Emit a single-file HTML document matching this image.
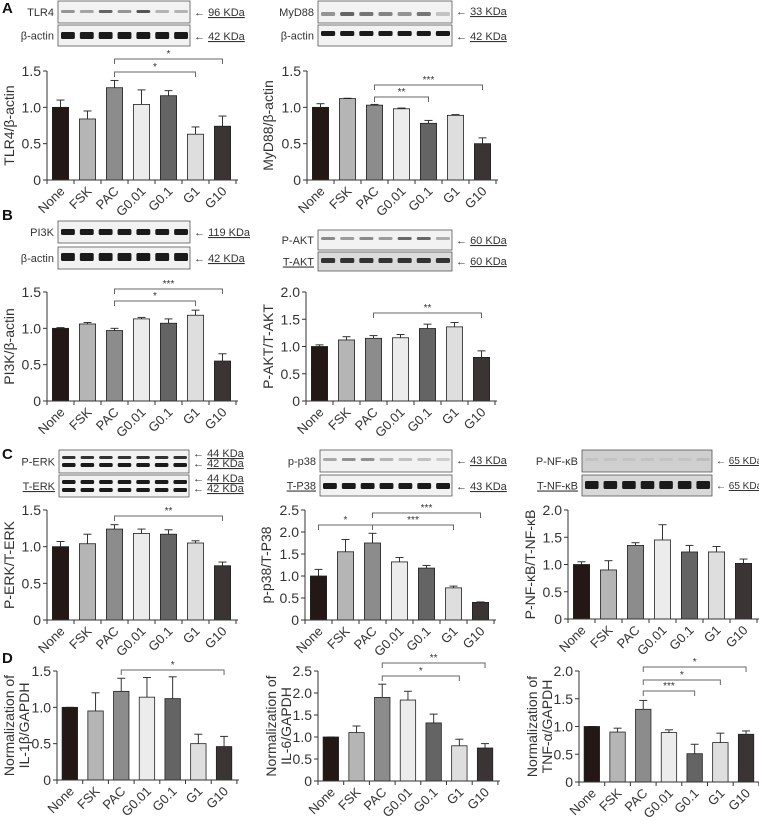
<!DOCTYPE html>
<html><head><meta charset="utf-8"><style>
body{margin:0;background:#fff;width:759px;height:817px;overflow:hidden;font-family:"Liberation Sans",sans-serif}
svg text{font-family:"Liberation Sans","DejaVu Sans",sans-serif}
</style></head><body>
<svg id="fig" width="759" height="817" viewBox="0 0 759 817" xmlns="http://www.w3.org/2000/svg"></svg>
<script>
const categories=["None","FSK","PAC","G0.01","G0.1","G1","G10"];
const tlr4Values=[1.0,0.84,1.27,1.04,1.16,0.63,0.74];
const tlr4Errors=[0.1,0.11,0.1,0.2,0.07,0.1,0.14];
const myd88Values=[1.0,1.12,1.03,0.98,0.78,0.89,0.50];
const myd88Errors=[0.05,0.005,0.01,0.01,0.04,0.01,0.08];
const pi3kValues=[1.0,1.06,0.97,1.13,1.07,1.18,0.55];
const pi3kErrors=[0.01,0.02,0.03,0.02,0.06,0.07,0.1];
const aktValues=[1.0,1.12,1.15,1.16,1.33,1.36,0.80];
const aktErrors=[0.03,0.06,0.05,0.06,0.08,0.08,0.12];
const erkValues=[1.0,1.04,1.24,1.18,1.17,1.05,0.74];
const erkErrors=[0.07,0.13,0.06,0.06,0.06,0.03,0.05];
const p38Values=[1.0,1.55,1.75,1.32,1.18,0.73,0.40];
const p38Errors=[0.15,0.28,0.22,0.1,0.06,0.04,0.01];
const nfkbValues=[1.0,0.9,1.35,1.45,1.23,1.23,1.02];
const nfkbErrors=[0.05,0.17,0.05,0.28,0.12,0.1,0.08];
const il1bValues=[1.0,0.95,1.22,1.14,1.12,0.5,0.46];
const il1bErrors=[0,0.25,0.18,0.27,0.3,0.13,0.14];
const il6Values=[1.0,1.1,1.9,1.84,1.32,0.8,0.75];
const il6Errors=[0,0.15,0.3,0.2,0.2,0.15,0.1];
const tnfValues=[1.0,0.9,1.31,0.89,0.51,0.71,0.86];
const tnfErrors=[0,0.07,0.16,0.05,0.17,0.17,0.06];
const ticks15=["0","0.5","1.0","1.5"];
const ticks20=["0","0.5","1.0","1.5","2.0"];
const ticks25=["0","0.5","1.0","1.5","2.0","2.5"];
const barColors=["#231816","#b5b5b5","#8c8c8c","#ececec","#646464","#dedede","#3a3434"];

const NS="http://www.w3.org/2000/svg";
const svg=document.getElementById('fig');
function mk(tag,attrs,parent,txt){const e=document.createElementNS(NS,tag);for(const k in attrs)e.setAttribute(k,attrs[k]);if(txt!==undefined)e.textContent=txt;(parent||svg).appendChild(e);return e;}

function chart(o){
  const g=mk('g',{});
  
  
  const n=categories.length;
  const xs=i=>o.x0+o.step*(i+0.5);
  const ys=v=>o.yb-(v/o.ymax)*(o.yb-o.yt);
  o.vals.forEach((v,i)=>{
    const bw=o.step*0.6, cx=xs(i), top=ys(v+o.errs[i]);
    const eb=mk('line',{x1:cx,x2:cx,y1:ys(v),y2:top,stroke:'#333','stroke-width':1},g);
    
    
    const cap=mk('line',{x1:cx-4,x2:cx+4,y1:top,y2:top,stroke:'#333','stroke-width':1},g);
    
    
    const r=mk('rect',{x:cx-bw/2,y:ys(v),width:bw,height:o.yb-ys(v),fill:barColors[i],stroke:'#222','stroke-width':0.8},g);
    
    
  });
  const ya=mk('line',{x1:o.x0,x2:o.x0,y1:o.yt,y2:o.yb,stroke:'#333','stroke-width':1},g);
  
  
  const xa=mk('line',{x1:o.x0,x2:o.x0+o.step*n+2,y1:o.yb,y2:o.yb,stroke:'#333','stroke-width':1},g);
  
  
  for(let i=0;i<=n;i++){mk('line',{x1:o.x0+o.step*i,x2:o.x0+o.step*i,y1:o.yb,y2:o.yb+4,stroke:'#333','stroke-width':1},g);}
  o.ticks.forEach(t=>{
    const y=ys(parseFloat(t));
    mk('line',{x1:o.x0-4,x2:o.x0,y1:y,y2:y,stroke:'#333','stroke-width':1},g);
    const tl=mk('text',{x:o.x0-6,y:y+5,'text-anchor':'end','font-size':14,fill:'#333'},g,t);
    
    
  });
  categories.forEach((c,i)=>{
    const cx=xs(i)+5, cy=o.yb+12;
    const t=mk('text',{x:cx,y:cy,'text-anchor':'end','font-size':13,fill:'#333',transform:`rotate(-45 ${cx} ${cy})`},g,c);
    
    
  });
  const my=(o.yt+o.yb)/2;
  o.ylabel.forEach((l,k)=>{
    const lx=o.labelX+k*15;
    const t=mk('text',{x:lx,y:my,'text-anchor':'middle','font-size':14,fill:'#333',transform:`rotate(-90 ${lx} ${my})`},g,l);
    
    
  });
  (o.sig||[]).forEach(s=>{
    const a=xs(s[0]),b=xs(s[1]),y=s[2];
    const p=mk('path',{d:`M${a} ${y+5}V${y}H${b}V${y+5}`,fill:'none',stroke:'#666','stroke-width':1},g);
    
    
    const t=mk('text',{x:(a+b)/2,y:y-2,'text-anchor':'middle','font-size':10,fill:'#333'},g,s[3]);
    
    
  });
}

function blot(o){
  const g=mk('g',{});
  
  
  mk('rect',{x:o.x,y:o.y,width:o.w,height:o.h,fill:o.bg||'#f2f2f2',stroke:'#555','stroke-width':0.8},g);
  const lw=o.w/7;
  for(let i=0;i<7;i++){
    (o.bands||[]).forEach(b=>{
      mk('rect',{x:o.x+lw*i+3,y:o.y+b[0],width:lw-5,height:b[1],rx:1.5,fill:b[2],opacity:(b[3]?b[3][i]:1)},g);
    });
  }
  const lb=mk('text',{x:o.x-4,y:o.y+o.h/2+4,'text-anchor':'end','font-size':11,fill:'#333','text-decoration':o.ul?'underline':'none'},g,o.label);
  
  
  (o.kda||[]).forEach(k=>{
    const t=mk('text',{x:o.x+o.w+4,y:o.y+k[0],'font-size':o.kfs||11,fill:'#333'},g);
    mk('tspan',{},t,'← ');
    mk('tspan',{'text-decoration':'underline'},t,k[1]);
    
    
  });
}

[["A",2,13],["B",2,220],["C",2,459],["D",2,663]].forEach(p=>{
  const t=mk('text',{x:p[1],y:p[2],'font-size':15,'font-weight':'bold',fill:'#111'},svg,p[0]);
  
  
});

const dark='#1a1a1a';
blot({name:'tlr4-blot',x:58,y:1,w:132,h:22,label:'TLR4',bands:[[9,3,'#555',[.6,.5,.9,.6,1,.4,.4]]],kda:[[15,'96 KDa']]});
blot({name:'tlr4-actin-blot',x:58,y:25,w:132,h:21,label:'β-actin',bands:[[7,7,dark]],kda:[[15,'42 KDa']]});
blot({name:'myd88-blot',x:318,y:1,w:134,h:22,label:'MyD88',bands:[[11,4,'#555',[.6,.9,.8,.7,.6,.8,.3]]],kda:[[14,'33 KDa']]});
blot({name:'myd88-actin-blot',x:318,y:25,w:134,h:21,label:'β-actin',bands:[[6,5,dark]],kda:[[15,'42 KDa']]});
blot({name:'pi3k-blot',x:58,y:221,w:132,h:22,label:'PI3K',bands:[[8,6,dark]],kda:[[15,'119 KDa']]});
blot({name:'pi3k-actin-blot',x:58,y:247,w:132,h:22,label:'β-actin',bands:[[6,8,dark]],kda:[[15,'42 KDa']]});
blot({name:'p-akt-blot',x:318,y:230,w:134,h:20,label:'P-AKT',bands:[[7,3,'#444',[.6,.5,.6,.5,.8,.8,.4]]],kda:[[14,'60 KDa']]});
blot({name:'t-akt-blot',x:318,y:252,w:134,h:19,label:'T-AKT',ul:true,bg:'#dcdcdc',bands:[[6,5,'#333']],kda:[[13,'60 KDa']]});
blot({name:'p-erk-blot',x:59,y:450,w:130,h:23,label:'P-ERK',bands:[[6,3,'#333'],[13,4,dark]],kda:[[7,'44 KDa'],[17,'42 KDa']]});
blot({name:'t-erk-blot',x:59,y:475,w:130,h:22,label:'T-ERK',ul:true,bands:[[5,4,dark],[13,4,dark]],kda:[[7,'44 KDa'],[17,'42 KDa']]});
blot({name:'p-p38-blot',x:320,y:450,w:132,h:22,label:'p-p38',bands:[[8,3,'#777',[.6,.8,.8,.5,.4,.4,.3]]],kda:[[14,'43 KDa']]});
blot({name:'t-p38-blot',x:320,y:475,w:132,h:21,label:'T-P38',ul:true,bands:[[8,6,dark]],kda:[[15,'43 KDa']]});
blot({name:'p-nfkb-blot',x:582,y:450,w:130,h:22,label:'P-NF-κB',bg:'#cfcfcf',kfs:10,bands:[[8,3,'#aaa',[.3,.3,.3,.3,.3,.3,.5]]],kda:[[14,'65 KDa']]});
blot({name:'t-nfkb-blot',x:582,y:475,w:130,h:21,label:'T-NF-κB',ul:true,bg:'#d8d8d8',kfs:10,bands:[[6,8,dark]],kda:[[14,'65 KDa']]});

chart({name:'tlr4-chart',x0:47,step:27,yt:71,yb:180,ymax:1.5,ticks:ticks15,vals:tlr4Values,errs:tlr4Errors,ylabel:['TLR4/β-actin'],labelX:14,sig:[[2,6,59,'*'],[2,5,72,'*']]});
chart({name:'myd88-chart',x0:307,step:27,yt:71,yb:180,ymax:1.5,ticks:ticks15,vals:myd88Values,errs:myd88Errors,ylabel:['MyD88/β-actin'],labelX:273,sig:[[2,6,85,'***'],[2,4,97,'**']]});
chart({name:'pi3k-chart',x0:47,step:27,yt:292,yb:401,ymax:1.5,ticks:ticks15,vals:pi3kValues,errs:pi3kErrors,ylabel:['PI3K/β-actin'],labelX:14,sig:[[2,6,289,'***'],[2,5,301,'*']]});
chart({name:'akt-chart',x0:306,step:27,yt:292,yb:401,ymax:2.0,ticks:ticks20,vals:aktValues,errs:aktErrors,ylabel:['P-AKT/T-AKT'],labelX:273,sig:[[2,6,313,'**']]});
chart({name:'erk-chart',x0:47,step:27,yt:510,yb:620,ymax:1.5,ticks:ticks15,vals:erkValues,errs:erkErrors,ylabel:['P-ERK/T-ERK'],labelX:14,sig:[[2,6,516,'**']]});
chart({name:'p38-chart',x0:305,step:27,yt:510,yb:620,ymax:2.5,ticks:ticks25,vals:p38Values,errs:p38Errors,ylabel:['p-p38/T-P38'],labelX:271,sig:[[2,6,513,'***'],[0,2,525,'*'],[2,5,525,'***']]});
chart({name:'nfkb-chart',x0:568,step:27,yt:510,yb:619,ymax:2.0,ticks:ticks20,vals:nfkbValues,errs:nfkbErrors,ylabel:['P-NF-κB/T-NF-κB'],labelX:535});
chart({name:'il1b-chart',x0:57,step:25.7,yt:671,yb:780,ymax:1.5,ticks:ticks15,vals:il1bValues,errs:il1bErrors,ylabel:['Normalization of','IL-1β/GAPDH'],labelX:14,sig:[[2,6,670,'*']]});
chart({name:'il6-chart',x0:318,step:25.7,yt:671,yb:781,ymax:2.5,ticks:ticks25,vals:il6Values,errs:il6Errors,ylabel:['Normalization of','IL-6/GAPDH'],labelX:276,sig:[[2,6,663,'**'],[2,5,676,'*']]});
chart({name:'tnf-chart',x0:579,step:25.7,yt:671,yb:782,ymax:2.0,ticks:ticks20,vals:tnfValues,errs:tnfErrors,ylabel:['Normalization of','TNF-α/GAPDH'],labelX:537,sig:[[2,6,667,'*'],[2,5,680,'*'],[2,4,691,'***']]});
</script>
</body></html>
